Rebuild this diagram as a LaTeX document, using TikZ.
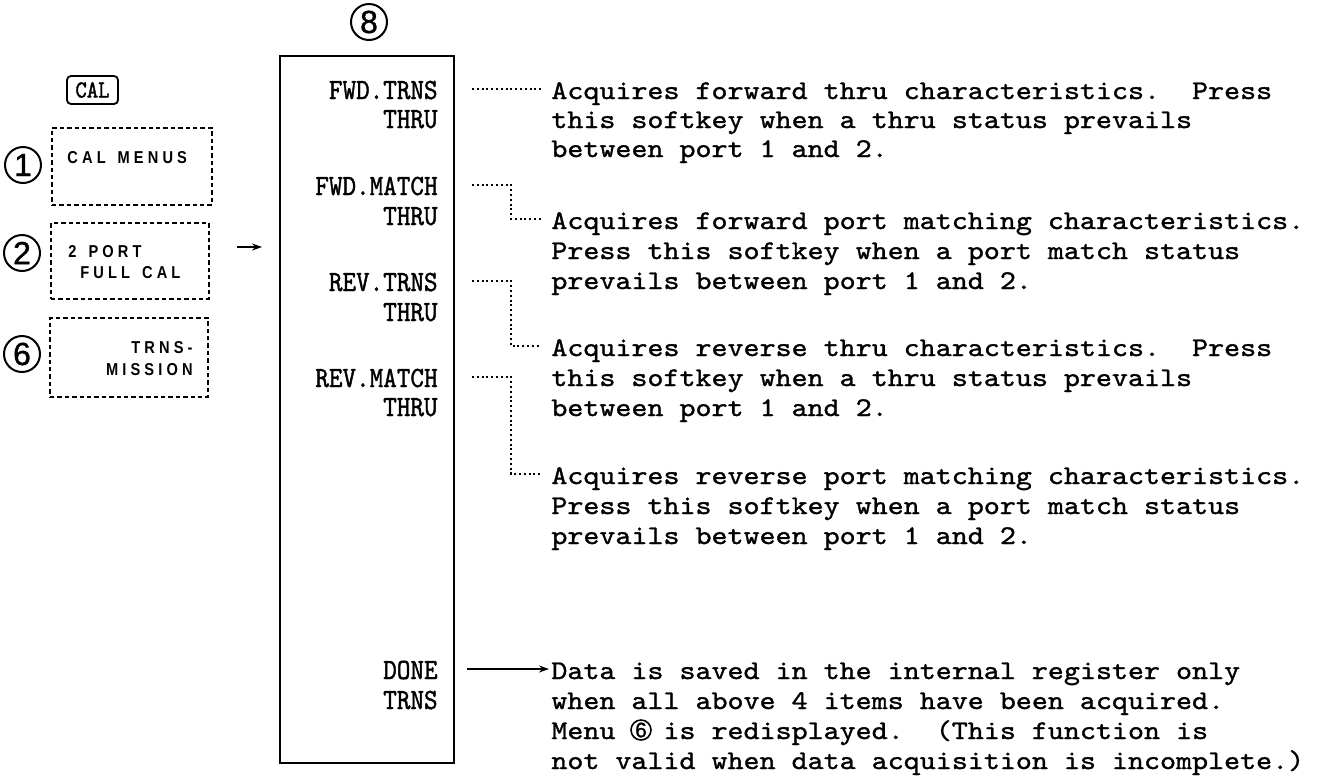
\documentclass[tikz,border=0pt]{standalone}
\usepackage{fontspec}
\usetikzlibrary{calc,arrows.meta}
\newfontfamily\descfont[FakeBold=1.2,FakeStretch=1.13]{lmmono10-regular.otf}
\newfontfamily\menufont[FakeBold=1.3,FakeStretch=0.88]{lmmono10-regular.otf}
\newfontfamily\keyfont[LetterSpace=24,FakeStretch=0.85]{Liberation Sans}
\newfontfamily\numfont[FakeBold=1]{Liberation Sans}
\frenchspacing
\newcommand{\wgap}{\hspace{6pt}}
\tikzset{
  desc/.style={anchor=base west, inner sep=0pt, font={\descfont\fontsize{13.5}{16}\selectfont}},
  menulabel/.style={anchor=base east, inner sep=0pt, font={\menufont\fontsize{14.7}{16}\selectfont}},
  keytext/.style={inner sep=0pt, font={\keyfont\bfseries\fontsize{8.6}{9}\selectfont}},
  softbox/.style={draw, line width=0.9pt, dash pattern=on 2.2pt off 1.5pt, inner sep=0pt},
  keycap/.style={draw, line width=0.9pt, rounded corners=2pt, inner sep=0pt},
  numcirc/.style={draw, circle, line width=1pt, inner sep=0pt, minimum size=18pt, font={\numfont\fontsize{16}{16}\selectfont}},
  smallcirc/.style={draw, circle, line width=0.8pt, inner sep=0pt, minimum size=10pt, font={\numfont\fontsize{10.5}{11}\selectfont}},
  menubox/.style={draw, line width=1.1pt, inner sep=0pt},
  conn/.style={line width=0.7pt, dash pattern=on 1pt off 1.4pt},
  arr/.style={line width=0.7pt, -{Stealth[length=5pt,width=3.5pt]}},
}
\begin{document}
\begin{tikzpicture}[x=0.5pt,y=-0.5pt]
\useasboundingbox (0,0) rectangle (1323,778);

% left side: key and soft menus
\node[keycap, minimum width=25.5pt, minimum height=14pt] (cal) at (92.5,90)
  {\menufont\fontsize{12.3}{12}\selectfont CAL};

\node[softbox, minimum width=80pt, minimum height=38.5pt] (box1) at (132,166.5) {};
\node[keytext, anchor=base west] (t1) at (67,163) {CAL\wgap MENUS};
\node[numcirc] (n1) at (23,165) {1};

\node[softbox, minimum width=79pt, minimum height=38pt] (box2) at (130,261) {};
\node[keytext, anchor=base west] (t2a) at (68,257) {2\wgap PORT};
\node[keytext, anchor=base west] (t2b) at (80,278) {FULL\wgap CAL};
\node[numcirc] (n2) at (22,253) {2};

\node[softbox, minimum width=79pt, minimum height=39.5pt] (box6) at (129,357.5) {};
\node[keytext, anchor=base east] (t6a) at (193,353) {TRNS-};
\node[keytext, anchor=base east] (t6b) at (193,375) {MISSION};
\node[numcirc] (n6) at (22,354) {6};

\coordinate (la) at (237,247);
\coordinate (lb) at (262,247);
\draw[arr] (la) -- (lb);

% menu 8
\node[menubox, minimum width=87pt, minimum height=353.5pt] (menu) at (367,409.5) {};
\node[numcirc] (n8) at (369,22) {8};

\node[menulabel] (m1a) at (438,99) {FWD.TRNS};
\node[menulabel] (m1b) at (438,128) {THRU};
\node[menulabel] (m2a) at (438,195) {FWD.MATCH};
\node[menulabel] (m2b) at (438,225) {THRU};
\node[menulabel] (m3a) at (438,291) {REV.TRNS};
\node[menulabel] (m3b) at (438,321) {THRU};
\node[menulabel] (m4a) at (438,387) {REV.MATCH};
\node[menulabel] (m4b) at (438,416) {THRU};
\node[menulabel] (m5a) at (438,679) {DONE};
\node[menulabel] (m5b) at (438,709) {TRNS};

% descriptions
\node[desc] (d1a) at (551,99) {Acquires forward thru characteristics.~~Press};
\node[desc] (d1b) at (551,128) {this softkey when a thru status prevails};
\node[desc] (d1c) at (551,157) {between port 1 and 2.};

\node[desc] (d2a) at (551,229) {Acquires forward port matching characteristics.};
\node[desc] (d2b) at (551,259) {Press this softkey when a port match status};
\node[desc] (d2c) at (551,289) {prevails between port 1 and 2.};

\node[desc] (d3a) at (551,356) {Acquires reverse thru characteristics.~~Press};
\node[desc] (d3b) at (551,386) {this softkey when a thru status prevails};
\node[desc] (d3c) at (551,416) {between port 1 and 2.};

\node[desc] (d4a) at (551,484) {Acquires reverse port matching characteristics.};
\node[desc] (d4b) at (551,514) {Press this softkey when a port match status};
\node[desc] (d4c) at (551,544) {prevails between port 1 and 2.};

\node[desc] (d5a) at (551,679) {Data is saved in the internal register only};
\node[desc] (d5b) at (551,709) {when all above 4 items have been acquired.};
\node[desc] (d5c) at (551,739) {Menu\phantom{000}is redisplayed.~~(This function is};
\node[desc] (d5d) at (551,769) {not valid when data acquisition is incomplete.)};
\node[smallcirc] (n6b) at (641,730) {6};

% connectors
\draw[conn] ($(m1a.base east)+(34,-10)$) -- ($(d1a.base west)+(-10,-10)$);
\draw[conn] ($(m2a.base east)+(34,-10)$) -| ($(d2a.base west)+(-40,-10)$) -- ($(d2a.base west)+(-10,-10)$);
\draw[conn] ($(m3a.base east)+(34,-10)$) -| ($(d3a.base west)+(-40,-10)$) -- ($(d3a.base west)+(-10,-10)$);
\draw[conn] ($(m4a.base east)+(34,-10)$) -| ($(d4a.base west)+(-40,-10)$) -- ($(d4a.base west)+(-10,-10)$);
\draw[arr] ($(m5a.base east)+(29,-10)$) -- ($(d5a.base west)+(-2,-10)$);
\end{tikzpicture}
\end{document}
